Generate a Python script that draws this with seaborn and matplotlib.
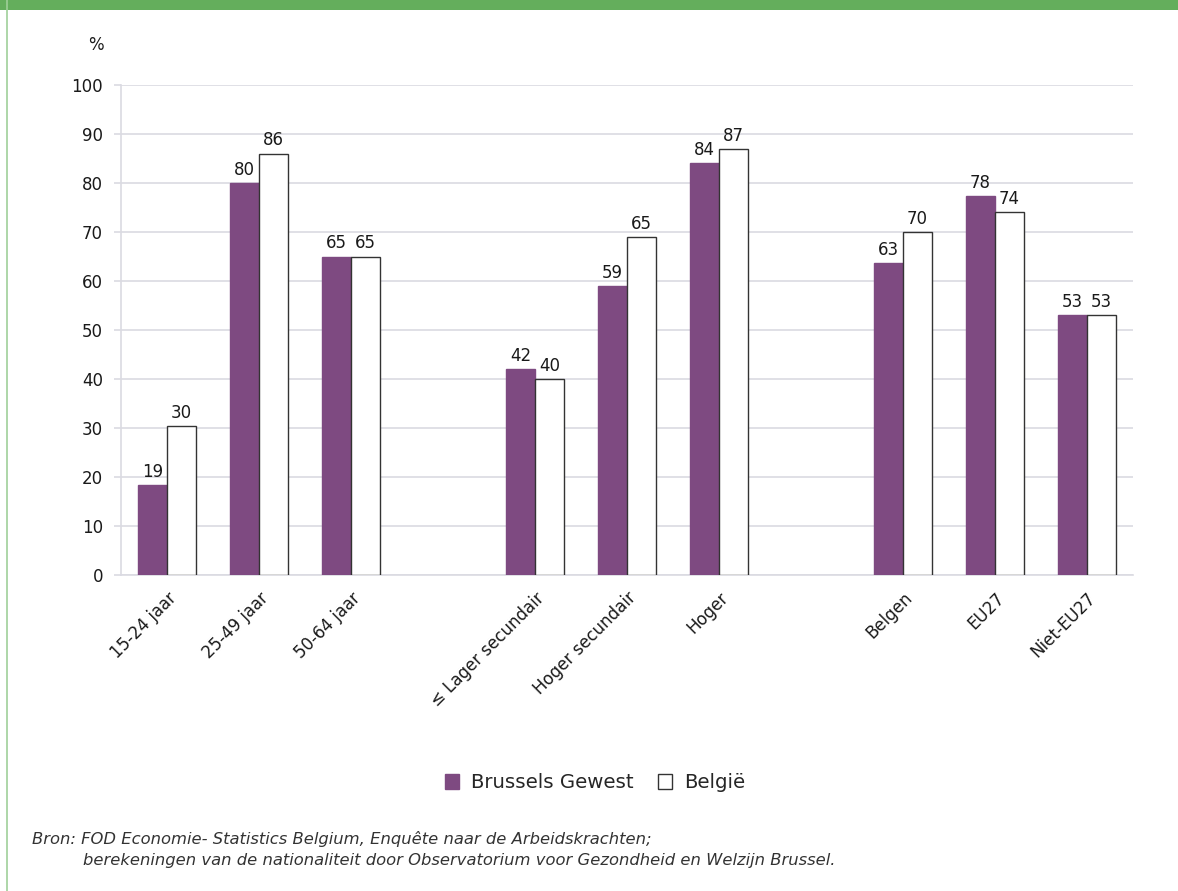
import numpy as np
import pandas as pd
import matplotlib
matplotlib.use("Agg")
import matplotlib.pyplot as plt
from matplotlib.patches import Patch, Rectangle
from matplotlib.lines import Line2D
import seaborn as sns

categories = ["15-24 jaar", "25-49 jaar", "50-64 jaar", " ",
              "≤ Lager secundair", "Hoger secundair", "Hoger", "  ",
              "Belgen", "EU27", "Niet-EU27"]
brussels = [18.3, 80, 65, np.nan, 42, 59, 84, np.nan, 63.6, 77.3, 53]
belgie = [30.4, 86, 65, np.nan, 40, 69, 87, np.nan, 70, 74, 53]
brussels_labels = ["19", "80", "65", "", "42", "59", "84", "", "63", "78", "53"]
belgie_labels = ["30", "86", "65", "", "40", "65", "87", "", "70", "74", "53"]
series = ["Brussels Gewest", "België"]

purple = "#7e4a81"
grid_col = "#dadae2"

df = pd.DataFrame({
    "cat": categories * 2,
    "val": brussels + belgie,
    "serie": [series[0]] * len(categories) + [series[1]] * len(categories),
})

sns.set_style("white")
plt.rcParams["font.family"] = ["DejaVu Sans"]

fig = plt.figure(figsize=(11.78, 8.91), dpi=100)
ax = fig.add_axes([121 / 1178, 1 - 575 / 891, 1012 / 1178, 490 / 891])

sns.barplot(data=df, x="cat", y="val", hue="serie", order=categories,
            hue_order=series, palette=[purple, "white"], width=0.63,
            saturation=1, legend=False, ax=ax, zorder=3)

for bars, col, labs in zip(ax.containers, [purple, "#333333"],
                           [brussels_labels, belgie_labels]):
    for b in bars:
        if b is None:
            continue
        b.set_edgecolor(col)
        b.set_linewidth(1.0)
        xc = b.get_x() + b.get_width() / 2
        i = int(round(xc))
        ax.annotate(labs[i], (xc, b.get_height()), xytext=(0, 3),
                    textcoords="offset points", ha="center", va="bottom",
                    fontsize=12, color="#1a1a1a")

ax.set_xlim(-0.5, len(categories) - 0.5)
ax.set_ylim(0, 100)
ax.set_yticks(range(0, 101, 10))
ax.yaxis.grid(True, color=grid_col, linewidth=1.2, zorder=0)
ax.set_axisbelow(True)
ax.set_xlabel("")
ax.set_ylabel("")

for s in ["top", "right"]:
    ax.spines[s].set_visible(False)
ax.spines["left"].set_color(grid_col)
ax.spines["bottom"].set_color(grid_col)
ax.spines["left"].set_linewidth(1.2)
ax.spines["bottom"].set_linewidth(1.2)

ax.set_xticks(range(len(categories)))
ax.set_xticklabels(categories, rotation=45, ha="right",
                   rotation_mode="anchor", fontsize=12, color="#1a1a1a")
ax.set_xticks(np.arange(-0.5, len(categories), 1), minor=True)
ax.tick_params(axis="x", which="major", length=0, pad=10)
ax.tick_params(axis="x", which="minor", length=10, color=grid_col, width=1.2)
ax.tick_params(axis="y", length=5, color=grid_col, width=1.2, labelsize=12,
               labelcolor="#1a1a1a", pad=8, left=True)

fig.text(96 / 1178, 1 - 45 / 891, "%", fontsize=12, color="#1a1a1a",
         ha="center", va="center")

handles = [Patch(facecolor=purple, edgecolor=purple),
           Patch(facecolor="white", edgecolor="#333333")]
fig.legend(handles, series, loc="center", bbox_to_anchor=(595 / 1178, 1 - 783 / 891),
           ncol=2, frameon=False, fontsize=14.2, handlelength=0.75,
           handleheight=0.75, columnspacing=1.2, handletextpad=0.6)

fig.text(32 / 1178, 1 - 839 / 891,
         "Bron: FOD Economie- Statistics Belgium, Enquête naar de Arbeidskrachten;",
         fontsize=11.8, style="italic", color="#333333", va="center")
fig.text(83 / 1178, 1 - 860 / 891,
         "berekeningen van de nationaliteit door Observatorium voor Gezondheid en Welzijn Brussel.",
         fontsize=11.8, style="italic", color="#333333", va="center")

# green band on top and thin frame line on the left
fig.patches.append(Rectangle((0, 1 - 10 / 891), 1, 10 / 891, transform=fig.transFigure,
                             facecolor="#64ae5c", edgecolor="none"))
fig.lines.append(Line2D([7 / 1178, 7 / 1178], [0, 1], transform=fig.transFigure,
                        color="#9fcf99", linewidth=1.2))

fig.savefig("out.png", dpi=100, facecolor="white")
